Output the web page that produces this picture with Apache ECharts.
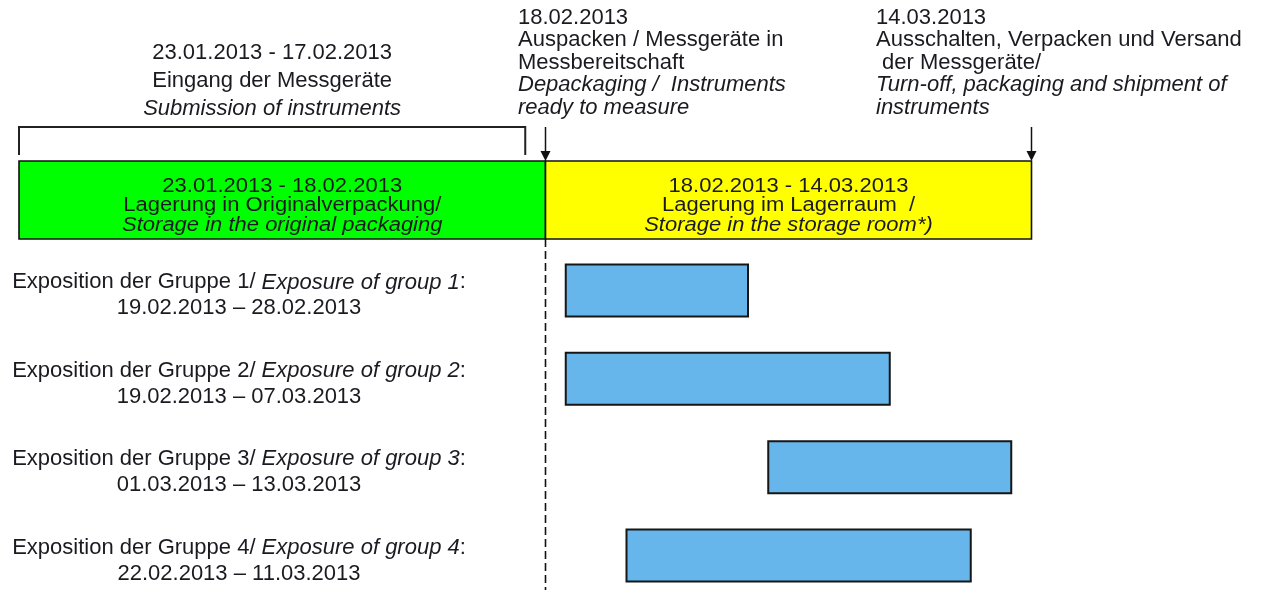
<!DOCTYPE html>
<html>
<head>
<meta charset="utf-8">
<script src="https://cdn.jsdelivr.net/npm/echarts@6/dist/echarts.min.js"></script>
<style>
  html, body { margin: 0; padding: 0; background: #fff; }
  #chart { width: 1261px; height: 590px; }
</style>
</head>
<body>
<div id="chart"></div>
<script>
// rows: storage phase on top, then the four exposure groups
const rows = ['Lagerung', 'Gruppe 1', 'Gruppe 2', 'Gruppe 3', 'Gruppe 4'];
const groupsEn = ['group 1', 'group 2', 'group 3', 'group 4'];
const exposureStart = ['19.02.2013', '19.02.2013', '01.03.2013', '22.02.2013'];
const exposureEnd = ['28.02.2013', '07.03.2013', '13.03.2013', '11.03.2013'];

const phaseStart = ['23.01.2013', '18.02.2013'];
const phaseEnd = ['18.02.2013', '14.03.2013'];
const phaseDe = ['Lagerung in Originalverpackung/', 'Lagerung im Lagerraum  /'];
const phaseEn = ['Storage in the original packaging', 'Storage in the storage room*)'];

const intakeStart = '23.01.2013';
const intakeEnd = '17.02.2013';
const intakeDe = 'Eingang der Messgeräte';
const intakeEn = 'Submission of instruments';

const milestoneDates = ['18.02.2013', '14.03.2013'];
const milestoneDe = [['Auspacken / Messgeräte in', 'Messbereitschaft'], ['Ausschalten, Verpacken und Versand', ' der Messgeräte/']];
const milestoneEn = [['Depackaging /  Instruments', 'ready to measure'], ['Turn-off, packaging and shipment of', 'instruments']];

const dashedAt = ['18.02.2013'];

// styling
const FONT = '"Liberation Sans", Arial, sans-serif';
const INK = '#1a1a20';
const phaseFill = ['#00ff00', '#ffff00'];
const noteDx = [-27.5, -155.5];
const BOX_H = 78;
const BOX_SHIFT = -2;

function day(s) {
  const [d, m, y] = s.split('.').map(Number);
  return Date.UTC(y, m - 1, d);
}

function rich(size, lh) {
  return {
    n: { fontSize: size, fontFamily: FONT, lineHeight: lh, fill: INK, color: INK },
    i: { fontSize: size, fontFamily: FONT, lineHeight: lh, fontStyle: 'italic', fill: INK, color: INK },
  };
}

function boxTop(api, x) {
  return api.coord([x, 0])[1] + BOX_SHIFT - BOX_H / 2;
}

function renderPhase(params, api) {
  const i = params.dataIndex;
  const a = api.coord([api.value(0), api.value(2)]);
  const b = api.coord([api.value(1), api.value(2)]);
  const top = boxTop(api, api.value(0));
  return {
    type: 'group',
    children: [{
      type: 'rect',
      shape: { x: a[0], y: top, width: b[0] - a[0], height: BOX_H },
      style: { fill: phaseFill[i], stroke: '#111', lineWidth: 1.6 },
    }, {
      type: 'text',
      x: (a[0] + b[0]) / 2,
      y: top + BOX_H / 2 + 6,
      scaleY: 0.9,
      style: {
        text: `{n|${phaseStart[i]} - ${phaseEnd[i]}}\n{n|${phaseDe[i]}}\n{i|${phaseEn[i]}}`,
        rich: rich(22, 21.5),
        align: 'center',
        verticalAlign: 'middle',
      },
    }],
  };
}

function renderDashed(params, api) {
  const x = api.coord([api.value(0), 0])[0];
  const y0 = boxTop(api, api.value(0)) + BOX_H;
  return {
    type: 'line',
    shape: { x1: x, y1: y0, x2: x, y2: api.getHeight() },
    style: { stroke: '#111', lineWidth: 1.6, lineDash: [8, 4] },
  };
}

function renderExposure(params, api) {
  const a = api.coord([api.value(0), api.value(2)]);
  const b = api.coord([api.value(1), api.value(2)]);
  const h = 52;
  return {
    type: 'rect',
    shape: { x: a[0], y: a[1] - h / 2, width: b[0] - a[0], height: h },
    style: { fill: '#66b6eb', stroke: '#161616', lineWidth: 2 },
  };
}

function renderIntake(params, api) {
  const a = api.coord([api.value(0), 0]);
  const b = api.coord([api.value(1), 0]);
  const top = boxTop(api, api.value(0)) - 34;
  return {
    type: 'group',
    children: [{
      type: 'polyline',
      shape: { points: [[a[0], top + 28], [a[0], top], [b[0], top], [b[0], top + 28]] },
      style: { stroke: '#222', lineWidth: 2, fill: null },
    }, {
      type: 'text',
      x: (a[0] + b[0]) / 2,
      y: top - 4,
      style: {
        text: `{n|${intakeStart} - ${intakeEnd}}\n{n|${intakeDe}}\n{i|${intakeEn}}`,
        rich: rich(22, 28),
        align: 'center',
        verticalAlign: 'bottom',
      },
    }],
  };
}

function renderMilestone(params, api) {
  const i = params.dataIndex;
  const x = api.coord([api.value(0), 0])[0];
  const tip = boxTop(api, api.value(0));
  const top = tip - 34;
  const lines = [`{n|${milestoneDates[i]}}`]
    .concat(milestoneDe[i].map((t) => `{n|${t}}`))
    .concat(milestoneEn[i].map((t) => `{i|${t}}`));
  return {
    type: 'group',
    children: [{
      type: 'line',
      shape: { x1: x, y1: top, x2: x, y2: tip - 6 },
      style: { stroke: '#111', lineWidth: 1.5 },
    }, {
      type: 'polygon',
      shape: { points: [[x - 5, tip - 10], [x + 5, tip - 10], [x, tip]] },
      style: { fill: '#111' },
    }, {
      type: 'text',
      x: x + noteDx[i],
      y: top - 8,
      style: {
        text: lines.join('\n'),
        rich: rich(22, 22.5),
        align: 'left',
        verticalAlign: 'bottom',
      },
    }],
  };
}

const chart = echarts.init(document.getElementById('chart'), null, { renderer: 'canvas' });
chart.setOption({
  animation: false,
  backgroundColor: '#fff',
  grid: { left: 19, top: 202, width: 1012.5, bottom: 34.5 },
  xAxis: {
    type: 'time',
    min: day(intakeStart),
    max: day(phaseEnd[1]),
    show: false,
  },
  yAxis: {
    type: 'category',
    data: rows,
    inverse: true,
    boundaryGap: false,
    axisLine: { show: false },
    axisTick: { show: false },
    splitLine: { show: false },
    axisLabel: {
      margin: -220,
      align: 'center',
      verticalAlign: 'middle',
      padding: [10, 0, 0, 0],
      rich: rich(22, 26),
      formatter: (v, idx) => (idx === 0 ? '' : `{n|Exposition der ${v}/ }{i|Exposure of ${groupsEn[idx - 1]}}{n|:}\n{n|${exposureStart[idx - 1]} – ${exposureEnd[idx - 1]}}`),
    },
  },
  series: [{
    type: 'custom',
    name: 'phases',
    renderItem: renderPhase,
    encode: { x: [0, 1], y: 2 },
    data: phaseStart.map((s, i) => [day(s), day(phaseEnd[i]), 0]),
    z: 2,
  }, {
    type: 'custom',
    name: 'divider',
    renderItem: renderDashed,
    encode: { x: 0, y: 1 },
    data: dashedAt.map((s) => [day(s), 0]),
    z: 3,
  }, {
    type: 'custom',
    name: 'exposure',
    renderItem: renderExposure,
    encode: { x: [0, 1], y: 2 },
    data: exposureStart.map((s, i) => [day(s), day(exposureEnd[i]), i + 1]),
    z: 4,
  }, {
    type: 'custom',
    name: 'intake',
    renderItem: renderIntake,
    encode: { x: [0, 1], y: 2 },
    data: [[day(intakeStart), day(intakeEnd), 0]],
    z: 5,
  }, {
    type: 'custom',
    name: 'milestones',
    renderItem: renderMilestone,
    encode: { x: 0, y: 1 },
    data: milestoneDates.map((s) => [day(s), 0]),
    z: 5,
  }],
});
</script>
</body>
</html>
